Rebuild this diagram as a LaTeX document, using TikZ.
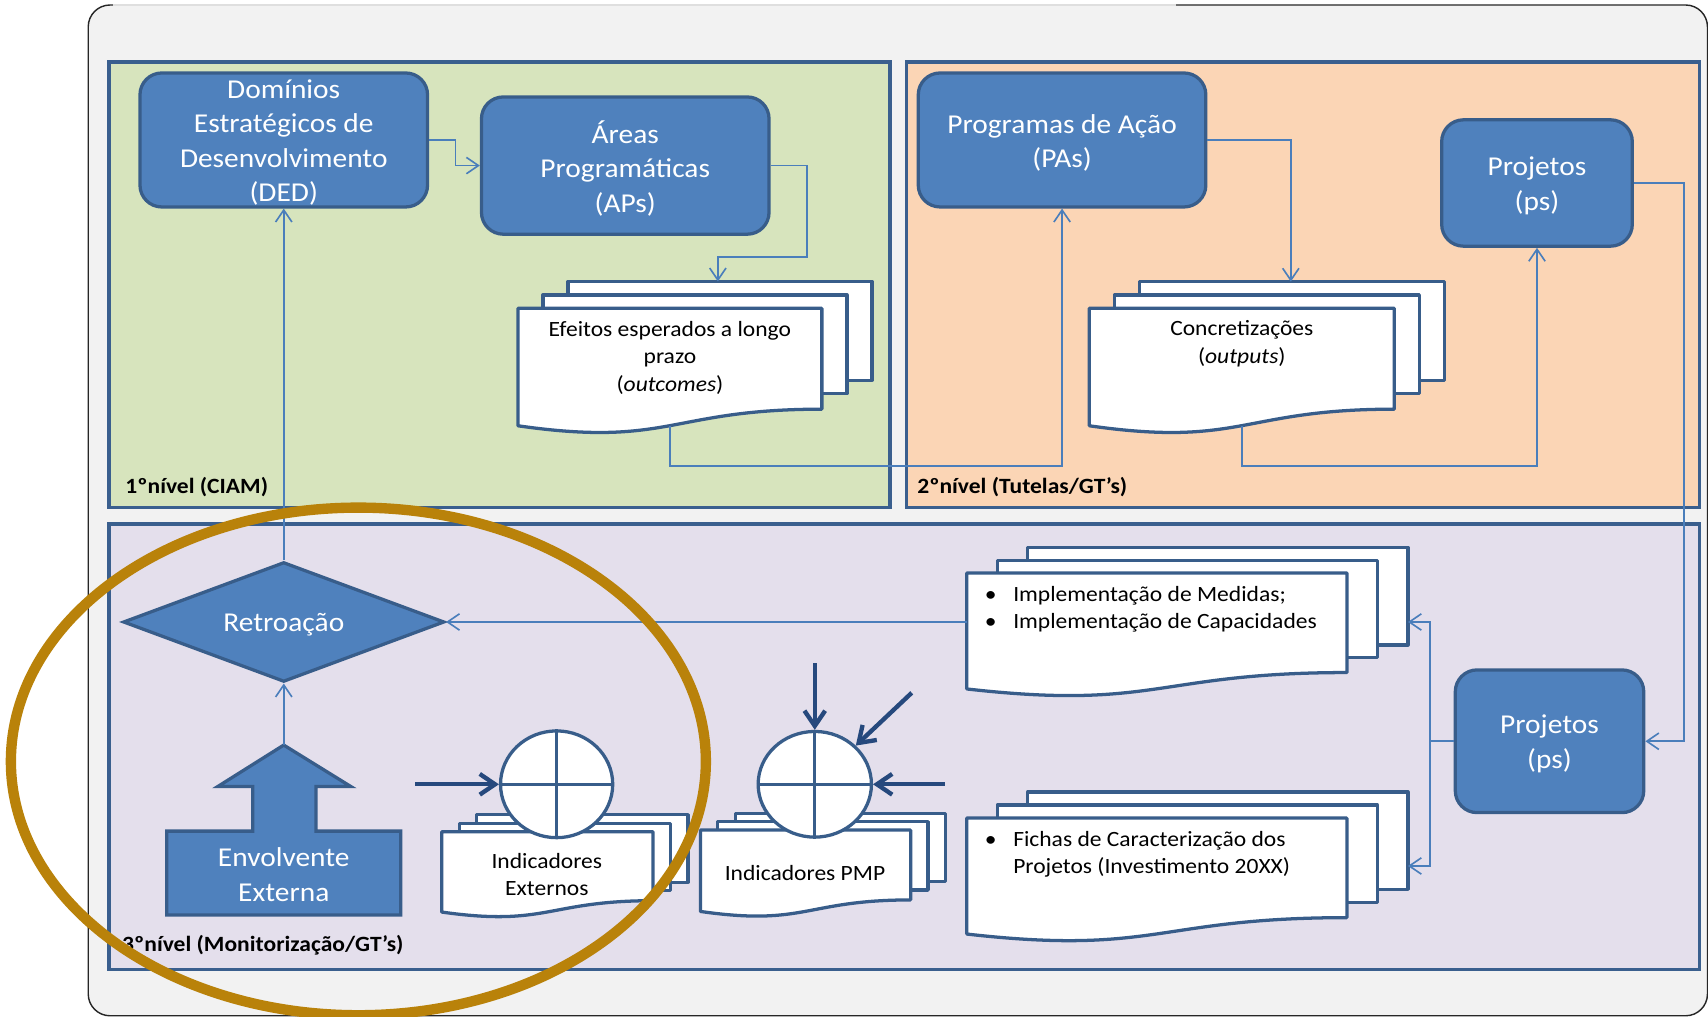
\documentclass[tikz,border=0pt]{standalone}
\usepackage{fontspec}
\setmainfont{Carlito}[FakeStretch=1.08]
\usetikzlibrary{shapes.geometric,arrows.meta,calc}
\definecolor{bgc}{HTML}{F2F2F2}
\definecolor{boxfill}{HTML}{4F81BD}
\definecolor{boxline}{HTML}{385D8A}
\definecolor{panline}{HTML}{3A5F8E}
\definecolor{greenp}{HTML}{D7E4BD}
\definecolor{orangep}{HTML}{FBD5B5}
\definecolor{lavp}{HTML}{E4DFEC}
\definecolor{conncol}{HTML}{4A7EBB}
\definecolor{darkarr}{HTML}{26497D}
\definecolor{goldc}{HTML}{B9820A}
\newcommand{\mdoc}[6]{%
 \draw[docst] ({#1+2*#5},{#2-2*#6}) rectangle ++(#3,{0.785*#4});
 \draw[docst] ({#1+#5},{#2-#6}) rectangle ++(#3,{0.785*#4});
 \draw[docst] (#1,#2) -- ++(#3,0) -- ({#1+#3},{#2+0.802*#4}) .. controls ({#1+0.5*#3},{#2+0.802*#4}) and ({#1+0.5*#3},{#2+1.1075*#4}) .. (#1,{#2+0.934*#4}) -- cycle;
}
\tikzset{
 boxfont/.style={font=\fontsize{25}{31.6}\selectfont},
 box/.style={draw=boxline, fill=boxfill, line width=3pt, rounded corners=20pt, inner sep=0pt},
 boxtext/.style={text=white, align=center, inner sep=0pt, boxfont},
 docst/.style={draw=boxline, fill=white, line width=3pt, line join=round},
 doctext/.style={align=center, inner sep=0pt, font=\fontsize{20}{25}\selectfont},
 panel/.style={draw=panline, line width=3pt},
 lvl/.style={anchor=west, inner sep=0pt, font=\fontsize{20}{24}\selectfont\bfseries},
 link/.style={draw=conncol, line width=1.5pt, -{Straight Barb[length=11pt,width=15pt]}},
 dark/.style={draw=darkarr, line width=4pt, -{Straight Barb[length=14pt,width=19pt]}},
 sumj/.style={ellipse, draw=boxline, fill=white, line width=3pt, minimum width=103pt, minimum height=98pt, inner sep=0pt},
}
\begin{document}
\begin{tikzpicture}[x=1pt,y=-1pt]
\useasboundingbox (0,0) rectangle (1568,933);
\fill[white] (0,0) rectangle (1568,933);
% outer frame
\draw[fill=bgc, draw=black!85, line width=1.3pt, rounded corners=20pt] (81,4.6) rectangle (1567.5,932.5);
\draw[draw=gray!25, line width=2pt] (104,4.6) -- (1080,4.6);
% panels
\draw[panel, fill=greenp] (100,57) rectangle (817,466);
\draw[panel, fill=orangep] (832,57) rectangle (1560,466);
\draw[panel, fill=lavp] (100,481) rectangle (1560,890);
\node[lvl] (l1) at (115,447) {1ºnível (CIAM)};
\node[lvl] (l2) at (842,447) {2ºnível (Tutelas/GT’s)};
\node[lvl] (l3) at (112,868) {3ºnível (Monitorização/GT’s)};
% boxes
\node[box, minimum width=264pt, minimum height=123pt] (ded) at (260.5,128.5) {};
\node[boxtext] (dedT) at ($(ded.center)+(0,2.5)$) {Domínios\\Estratégicos de\\Desenvolvimento\\(DED)};
\node[box, minimum width=264pt, minimum height=126pt] (aps) at (574,152) {};
\node[boxtext] (apsT) at ($(aps.center)+(0,2.5)$) {Áreas\\Programáticas\\(APs)};
\node[box, minimum width=264pt, minimum height=123pt] (pas) at (975,128.5) {};
\node[boxtext] (pasT) at ($(pas.center)+(0,2.5)$) {Programas de Ação\\(PAs)};
\node[box, minimum width=175pt, minimum height=116pt] (proj1) at (1411,168) {};
\node[boxtext] (proj1T) at ($(proj1.center)+(0,2.5)$) {Projetos\\(ps)};
\node[box, minimum width=173pt, minimum height=131pt] (proj2) at (1422.5,680.5) {};
\node[boxtext] (proj2T) at ($(proj2.center)+(0,2.5)$) {Projetos\\(ps)};
% retroacao
\node[diamond, aspect=2.68, draw=boxline, fill=boxfill, line width=3pt, minimum width=295pt, minimum height=110pt, inner sep=0pt] (retro) at (260.5,571) {};
\node[boxtext] (retroT) at ($(retro.center)+(0,2.5)$) {Retroação};
% envolvente externa
\draw[draw=boxline, fill=boxfill, line width=3pt] (153,763) -- (232,763) -- (232,722) -- (200,722) -- (260.5,684) -- (322,722) -- (290,722) -- (290,763) -- (368,763) -- (368,840) -- (153,840) -- cycle;
\node[boxtext] (env) at (260.5,803) {Envolvente\\Externa};
\coordinate (envTop) at (260.5,684);
% documents
\mdoc{475.5}{283}{279}{115.5}{23}{12.3}
\mdoc{1000}{283}{280}{115.5}{23}{12.2}
\mdoc{887.5}{526}{349}{114}{28}{11.7}
\mdoc{887.5}{751}{349}{114}{28}{12}
\mdoc{405.5}{763.5}{194}{79}{16}{7.8}
\mdoc{643}{762}{193}{80}{16}{7.7}
\node[doctext] (efeT) at (615,328.5) {Efeitos esperados a longo\\prazo\\(\textit{outcomes})};
\node[doctext] (conT) at (1140,315.5) {Concretizações\\(\textit{outputs})};
\node[doctext, anchor=west, align=left] (implT) at (904,559.5) {\makebox[26pt][l]{•}Implementação de Medidas;\\\makebox[26pt][l]{•}Implementação de Capacidades};
\node[doctext, anchor=west, align=left] (fichT) at (904,784.5) {\makebox[26pt][l]{•}Fichas de Caracterização dos\\\hspace*{26pt}Projetos (Investimento 20XX)};
\node[doctext] (extT) at (502,803) {Indicadores\\Externos};
\node[doctext] (pmpT) at (739,801) {Indicadores PMP};
% connector points on documents
\coordinate (efeIn) at (659,258.4);
\coordinate (efeOut) at (615,390.8);
\coordinate (conIn) at (1185,258.6);
\coordinate (conOut) at (1140,390.8);
\coordinate (implIn) at (1292.5,571);
\coordinate (fichIn) at (1292.5,795);
\coordinate (implOut) at (887.5,571);
% thin connectors
\draw[link] (ded.east) -- ++(24,0) |- (aps.west);
\draw[link] (aps.east) -- (741,152) -- (741,236) -- (659,236) -- (efeIn);
\draw[link] (efeOut) -- (615,428) -| (pas.south);
\draw[link] (pas.east) -| (conIn);
\draw[link] (conOut) -- (1140,428) -| (proj1.south);
\draw[link] (proj1.east) -- (1546,168) |- (proj2.east);
\draw[link] (proj2.west) -- (1313,680.5) |- (implIn);
\draw[link] (1313,680.5) |- (fichIn);
\draw[link] (implOut) -- (retro.east);
\draw[link] (retro.north) -- (ded.south);
\draw[link] (envTop) -- (retro.south);
% summing junctions
\node[sumj] (cx) at (511,720) {};
\draw[boxline, line width=3pt] (cx.north) -- (cx.south) (cx.west) -- (cx.east);
\node[sumj, minimum width=104pt, minimum height=97pt] (cp) at (748,720) {};
\draw[boxline, line width=3pt] (cp.north) -- (cp.south) (cp.west) -- (cp.east);
\coordinate (extA) at (381,720);
\coordinate (pmpA) at (748,609);
\coordinate (pmpB) at (837,636);
\coordinate (pmpC) at (867.5,720);
\draw[dark] (extA) -- (cx.west);
\draw[dark] (pmpA) -- (cp.north);
\draw[dark] (pmpB) -- (cp);
\draw[dark] (pmpC) -- (cp.east);
% highlight ellipse
\draw[goldc, line width=9.5pt] (329,699) ellipse [x radius=319pt, y radius=233pt];
\end{tikzpicture}
\end{document}
